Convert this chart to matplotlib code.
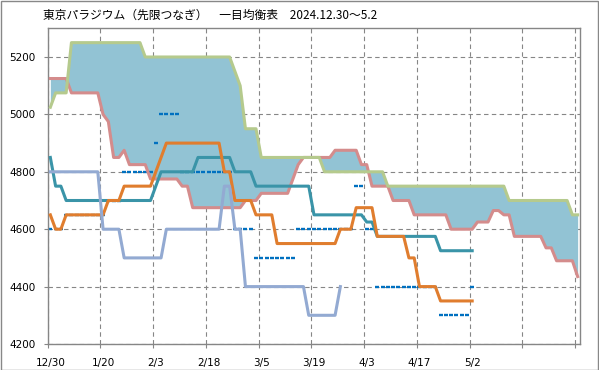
import matplotlib
matplotlib.use('Agg')
import matplotlib.pyplot as plt
from matplotlib.patches import Rectangle

# trading-day index is the x axis, 101 slots (cloud runs ahead of the price)
dates = ['12/30', '1/20', '2/3', '2/18', '3/5', '3/19', '4/3', '4/17', '5/2']

# senkou span A (green) / B (pink), 101 points each
span_a = [5025, 5075, 5075, 5075, 5250, 5250, 5250, 5250, 5250, 5250,
          5250, 5250, 5250, 5250, 5250, 5250, 5250, 5250, 5200, 5200,
          5200, 5200, 5200, 5200, 5200, 5200, 5200, 5200, 5200, 5200,
          5200, 5200, 5200, 5200, 5200, 5150, 5100, 4950, 4950, 4950,
          4850, 4850, 4850, 4850, 4850, 4850, 4850, 4850, 4850, 4850,
          4850, 4850, 4800, 4800, 4800, 4800, 4800, 4800, 4800, 4800,
          4800, 4800, 4800, 4800, 4750, 4750, 4750, 4750, 4750, 4750,
          4750, 4750, 4750, 4750, 4750, 4750, 4750, 4750, 4750, 4750,
          4750, 4750, 4750, 4750, 4750, 4750, 4750, 4700, 4700, 4700,
          4700, 4700, 4700, 4700, 4700, 4700, 4700, 4700, 4700, 4650,
          4650]
span_b = [5125, 5125, 5125, 5125, 5075, 5075, 5075, 5075, 5075, 5075,
          5000, 4975, 4850, 4850, 4875, 4825, 4825, 4825, 4825, 4775,
          4775, 4775, 4775, 4775, 4775, 4750, 4750, 4675, 4675, 4675,
          4675, 4675, 4675, 4675, 4675, 4675, 4675, 4700, 4700, 4700,
          4725, 4725, 4725, 4725, 4725, 4725, 4775, 4825, 4850, 4850,
          4850, 4850, 4850, 4850, 4875, 4875, 4875, 4875, 4875, 4825,
          4825, 4750, 4750, 4750, 4750, 4700, 4700, 4700, 4700, 4650,
          4650, 4650, 4650, 4650, 4650, 4650, 4600, 4600, 4600, 4600,
          4600, 4625, 4625, 4625, 4665, 4665, 4650, 4650, 4575, 4575,
          4575, 4575, 4575, 4575, 4535, 4535, 4490, 4490, 4490, 4490,
          4435]

# kijun (teal) and tenkan (orange), 81 points
kijun = [4850, 4750, 4750, 4700, 4700, 4700, 4700, 4700, 4700, 4700,
         4700, 4700, 4700, 4700, 4700, 4700, 4700, 4700, 4700, 4700,
         4750, 4800, 4800, 4800, 4800, 4800, 4800, 4800, 4850, 4850,
         4850, 4850, 4850, 4850, 4850, 4800, 4800, 4800, 4800, 4750,
         4750, 4750, 4750, 4750, 4750, 4750, 4750, 4750, 4750, 4750,
         4650, 4650, 4650, 4650, 4650, 4650, 4650, 4650, 4650, 4650,
         4625, 4625, 4575, 4575, 4575, 4575, 4575, 4575, 4575, 4575,
         4575, 4575, 4575, 4575, 4525, 4525, 4525, 4525, 4525, 4525,
         4525]
tenkan = [4650, 4600, 4600, 4650, 4650, 4650, 4650, 4650, 4650, 4650,
          4650, 4700, 4700, 4700, 4750, 4750, 4750, 4750, 4750, 4750,
          4800, 4850, 4900, 4900, 4900, 4900, 4900, 4900, 4900, 4900,
          4900, 4900, 4900, 4800, 4800, 4700, 4700, 4700, 4700, 4650,
          4650, 4650, 4650, 4550, 4550, 4550, 4550, 4550, 4550, 4550,
          4550, 4550, 4550, 4550, 4550, 4600, 4600, 4600, 4675, 4675,
          4675, 4675, 4575, 4575, 4575, 4575, 4575, 4575, 4500, 4500,
          4400, 4400, 4400, 4400, 4350, 4350, 4350, 4350, 4350, 4350,
          4350]

# chikou span (lavender), 56 points
chikou = [4800, 4800, 4800, 4800, 4800, 4800, 4800, 4800, 4800, 4800,
          4600, 4600, 4600, 4600, 4500, 4500, 4500, 4500, 4500, 4500,
          4500, 4500, 4600, 4600, 4600, 4600, 4600, 4600, 4600, 4600,
          4600, 4600, 4600, 4750, 4750, 4600, 4600, 4400, 4400, 4400,
          4400, 4400, 4400, 4400, 4400, 4400, 4400, 4400, 4400, 4300,
          4300, 4300, 4300, 4300, 4300, 4400]

# daily close, drawn as dash markers
close = [4600, 4600, 4600, 4650, 4650, 4650, 4650, 4650, 4650, 4650,
         4650, 4700, 4700, 4700, 4800, 4800, 4800, 4800, 4800, 4800,
         4900, 5000, 5000, 5000, 5000, 4800, 4800, 4800, 4800, 4800,
         4800, 4800, 4800, 4800, 4800, 4600, 4600, 4600, 4600, 4500,
         4500, 4500, 4500, 4500, 4500, 4500, 4500, 4600, 4600, 4600,
         4600, 4600, 4600, 4600, 4600, 4600, 4600, 4600, 4750, 4750,
         4600, 4600, 4400, 4400, 4400, 4400, 4400, 4400, 4400, 4400,
         4400, 4400, 4400, 4400, 4300, 4300, 4300, 4300, 4300, 4300,
         4400]

plt.rcParams['font.family'] = ['DejaVu Sans']

fig = plt.figure(figsize=(5.99, 3.70), dpi=100)
ax = fig.add_axes([47.7 / 599, 26 / 370, (580.3 - 47.7) / 599, (344 - 28.3) / 370])

x_cloud = list(range(len(span_a)))
ax.fill_between(x_cloud, span_a, span_b, color='#92C3D4', lw=0, zorder=1)

ax.plot(range(len(close)), close, ls='none', marker='_', ms=3.2, mew=1.7,
        color='#0070C0', zorder=2)

style = dict(lw=2.2, solid_joinstyle='round')
ax.plot(x_cloud, span_b, color='#D48C8C', zorder=3, **style)
ax.plot(x_cloud, span_a, color='#B5CA8D', zorder=4, **style)
ax.plot(range(len(kijun)), kijun, color='#3A94A8', zorder=5, **style)
ax.plot(range(len(tenkan)), tenkan, color='#E07D2E', zorder=6, **style)
ax.plot(range(len(chikou)), chikou, color='#93AAD2', zorder=7, **style)

ax.set_xlim(-0.5, 100.5)
ax.set_ylim(4200, 5300)
ax.set_yticks(range(4200, 5201, 200))

# gridlines / tick marks on slot boundaries, date labels centred on the slot
ax.set_xticks([b - 0.5 for b in range(0, 101, 10)])
ax.set_xticklabels([])
ax.set_xticks(range(0, 81, 10), minor=True)
ax.set_xticklabels(dates, minor=True)
ax.tick_params(axis='x', which='minor', length=0, pad=10, labelsize=7.5)
ax.tick_params(axis='x', which='major', length=3, color='#868686')
ax.tick_params(axis='y', length=3, color='#868686', pad=6, labelsize=7.5)

ax.grid(True, which='major', color='#868686', lw=0.8, ls=(0, (4, 3)))
ax.set_axisbelow(True)
for s in ax.spines.values():
    s.set_color('#868686')
    s.set_linewidth(1.0)

fig.text(43.3 / 599, 1 - 15.7 / 370,
         '東京パラジウム（先限つなぎ）　一目均衡表　2024.12.30～5.2',
         fontsize=8.5, va='center', ha='left',
         family=['Noto Sans CJK JP', 'DejaVu Sans'])

fig.patches.append(Rectangle((0.5 / 599, 0.5 / 370), 597 / 599, 368.5 / 370,
                             transform=fig.transFigure, fill=False,
                             edgecolor='#888888', lw=1))

fig.savefig('out.png', dpi=100)
